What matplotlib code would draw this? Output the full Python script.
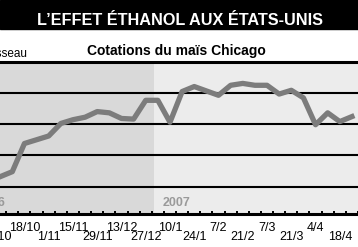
import datetime as dt
import matplotlib
matplotlib.use("Agg")
import matplotlib.pyplot as plt
import matplotlib.dates as mdates
from matplotlib.patches import Rectangle

# cours hebdomadaire du maïs à Chicago ($/boisseau)
dates = ["2006-10-04", "2006-10-11", "2006-10-18", "2006-10-25", "2006-11-01",
         "2006-11-08", "2006-11-15", "2006-11-22", "2006-11-29", "2006-12-06",
         "2006-12-13", "2006-12-20", "2006-12-27", "2007-01-03", "2007-01-10",
         "2007-01-17", "2007-01-24", "2007-01-31", "2007-02-07", "2007-02-14",
         "2007-02-21", "2007-02-28", "2007-03-07", "2007-03-14", "2007-03-21",
         "2007-03-28", "2007-04-04", "2007-04-11", "2007-04-18", "2007-04-25"]
prix = [2.66, 2.74, 3.19, 3.25, 3.31, 3.51, 3.57, 3.61, 3.70, 3.68,
        3.59, 3.58, 3.88, 3.88, 3.53, 4.02, 4.10, 4.03, 3.96, 4.12,
        4.15, 4.12, 4.12, 3.98, 4.04, 3.92, 3.49, 3.68, 3.54, 3.62]
tick_labels = ["4/10", "18/10", "1/11", "15/11", "29/11", "13/12", "27/12", "10/1",
               "24/1", "7/2", "21/2", "7/3", "21/3", "4/4", "18/4"]
grid_values = [2.5, 3.0, 3.5, 4.0, 4.5]

plt.rcParams["font.family"] = ["Liberation Sans Narrow", "Liberation Sans", "DejaVu Sans"]

x = mdates.datestr2num(dates)
new_year = mdates.datestr2num("2007-01-01")

fig = plt.figure(figsize=(3.58, 2.47), dpi=100)
fig.patches.append(Rectangle((0, 0.8825), 1, 0.1175, transform=fig.transFigure,
                             color="black", zorder=0))
fig.text(0.503, 0.899, "L\u2019EFFET ÉTHANOL AUX ÉTATS-UNIS", color="white",
         fontsize=11.7, fontweight="bold", ha="center", va="baseline")
fig.text(0.494, 0.777, "Cotations du maïs Chicago", fontsize=10, fontweight="bold",
         ha="center", va="baseline")
fig.text(0.078, 0.769, "$/boisseau", fontsize=8.5, family=["Liberation Sans", "DejaVu Sans"],
         ha="right", va="baseline")

ax = fig.add_axes([0, 0.1316, 1, 0.6194])
xmin = x[0] - 0.1
xmax = x[0] + 201.9
ax.set_xlim(xmin, xmax)
ax.set_ylim(2.056, 4.5)
ax.set_facecolor("#ececec")
ax.axvspan(xmin, new_year, color="#d9d9d9", lw=0, zorder=0)

for v in grid_values[:-1]:
    ax.axhline(v, color="black", lw=1.5, zorder=1)
ax.axhline(grid_values[-1], color="black", lw=2.2, zorder=1, clip_on=False)

ax.plot(x, prix, color="#7c7c7c", lw=3.8, solid_joinstyle="round", zorder=3)

for s in ["left", "right", "top"]:
    ax.spines[s].set_visible(False)
ax.spines["bottom"].set_linewidth(2.2)
ax.set_yticks([])

ax.set_xticks(x[::2][:len(tick_labels)])
ax.set_xticklabels(tick_labels, fontsize=9)
ax.tick_params(axis="x", which="major", length=0)
ax.set_xticks(list(x + 3.5), minor=True)
ax.tick_params(axis="x", which="minor", direction="in", length=2.4, width=1.4, color="black")
for i, t in enumerate(ax.xaxis.get_major_ticks()):
    t.set_pad(11.8 if i % 2 == 0 else 5.6)

ax.text(x[0] + 3.3, 0.055, "2006", transform=ax.get_xaxis_transform(), ha="right",
        va="baseline", fontsize=9, fontweight="bold", color="#9a9a9a")
ax.text(new_year + 4.8, 0.055, "2007", transform=ax.get_xaxis_transform(), ha="left",
        va="baseline", fontsize=9, fontweight="bold", color="#9a9a9a")

fig.savefig("out.png", dpi=100)
